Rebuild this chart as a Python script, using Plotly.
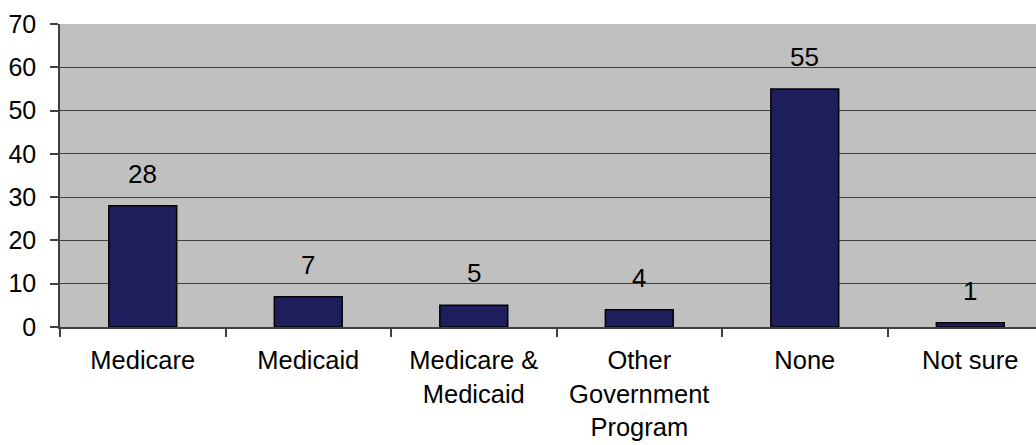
import plotly.graph_objects as go

categories = ["Medicare", "Medicaid", "Medicare &<br>Medicaid", "Other<br>Government<br>Program", "None", "Not sure"]
values = [28, 7, 5, 4, 55, 1]
y_ticks = [0, 10, 20, 30, 40, 50, 60, 70]

FONT = "Liberation Sans, Arial, sans-serif"

fig = go.Figure()
fig.add_trace(go.Bar(
    x=categories, y=values, width=0.41,
    marker=dict(color="#1E1E5C", line=dict(color="#000000", width=1.5)),
    hoverinfo="skip",
))

for c, v in zip(categories, values):
    fig.add_annotation(x=c, y=v, text=str(v), showarrow=False,
                       yanchor="middle", yshift=32,
                       font=dict(family=FONT, size=26, color="#000000"))

fig.update_layout(
    width=1036, height=445,
    margin=dict(l=60, r=0, t=24, b=118),
    paper_bgcolor="#FFFFFF", plot_bgcolor="#C0C0C0",
    showlegend=False, bargap=0.59,
    font=dict(family=FONT, size=26, color="#000000"),
)
fig.update_xaxes(
    type="category", range=[-0.5, 5.397], tickson="boundaries",
    ticks="outside", ticklen=8, tickcolor="#404040", tickwidth=1.5,
    showline=True, linecolor="#404040", linewidth=1.5, showgrid=False,
    ticklabelstandoff=10, automargin=False,
    tickfont=dict(family=FONT, size=25.5, color="#000000"),
)
fig.update_yaxes(
    range=[0, 70], tickvals=y_ticks, ticks="outside", ticklen=8,
    tickcolor="#404040", tickwidth=1.5,
    showline=True, linecolor="#404040", linewidth=1.5,
    showgrid=True, gridcolor="#404040", gridwidth=1.3, zeroline=False,
    ticklabelstandoff=9, automargin=False,
    tickfont=dict(family=FONT, size=25, color="#000000"),
)

fig.write_html("out.html")
